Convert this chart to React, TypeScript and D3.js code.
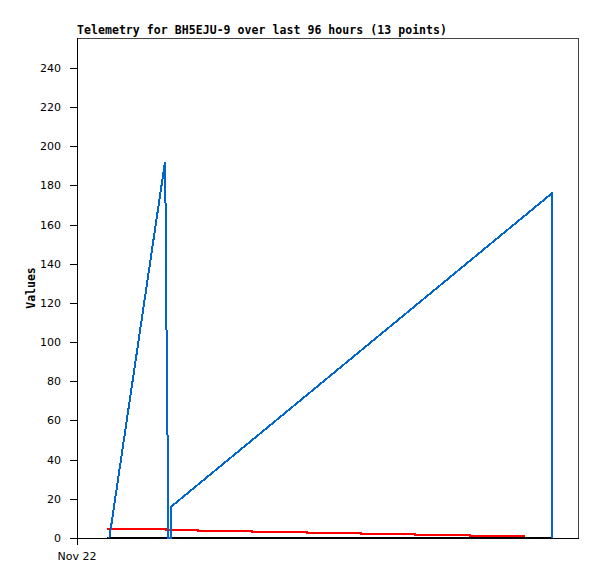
import React from "react";
import * as d3 from "d3";

const W = 597;
const H = 579;
const M = { left: 77, right: 19, top: 38, bottom: 41 };

const title = "Telemetry for BH5EJU-9 over last 96 hours (13 points)";
const yLabel = "Values";
const xTickLabel = "Nov 22";
const yTicks = [0, 20, 40, 60, 80, 100, 120, 140, 160, 180, 200, 220, 240];

// time in hours since start of window (Nov 22 00:00), value
const blueHours = [6.2, 16.86, 16.96, 17.05, 17.25, 17.5, 17.95, 18.05, 91.0, 91.0];
const blueValues = [0, 192, 171, 128, 85, 0, 0, 16, 176, 0];

const redHours = [5.75, 17.05, 23.2, 33.5, 44.1, 54.4, 64.8, 75.3, 85.8];
const redValues = [4.8, 4.1, 3.6, 3.1, 2.6, 2.1, 1.6, 1.1, 1.1];

const blackHours = [5.75, 91.0];
const blackValues = [0, 0];

export default function App() {
  const x = d3.scaleLinear().domain([0, 96]).range([M.left, W - M.right]);
  const y = d3.scaleLinear().domain([0, 255.3]).range([H - M.bottom, M.top]);

  const lineLin = d3
    .line<[number, number]>()
    .x((d) => x(d[0]))
    .y((d) => y(d[1]));
  const lineStep = d3
    .line<[number, number]>()
    .x((d) => x(d[0]))
    .y((d) => y(d[1]))
    .curve(d3.curveStepAfter);

  const blue = blueHours.map((h, i) => [h, blueValues[i]] as [number, number]);
  const red = redHours.map((h, i) => [h, redValues[i]] as [number, number]);
  const black = blackHours.map((h, i) => [h, blackValues[i]] as [number, number]);

  const x0 = M.left;
  const x1 = W - M.right;
  const y0 = H - M.bottom;
  const y1 = M.top;

  return (
    <svg
      width={W}
      height={H}
      style={{ position: "absolute", left: 0, top: 0, background: "#fff" }}
    >
      <rect x={0} y={0} width={W} height={H} fill="#fff" />
      <text
        x={x0}
        y={34}
        fontFamily="DejaVu Sans Mono"
        fontWeight="bold"
        fontSize={11.5}
        textLength={370}
        fill="#000"
      >
        {title}
      </text>
      {/* frame */}
      <rect
        x={x0 + 0.5}
        y={y1 + 0.5}
        width={x1 - x0}
        height={y0 - y1}
        fill="none"
        stroke="#444"
        strokeWidth={1}
      />
      {/* axes */}
      <line x1={x0 + 0.5} x2={x0 + 0.5} y1={y1} y2={y0 + 1} stroke="#000" />
      <line x1={x0} x2={x1 + 1} y1={y0 + 0.5} y2={y0 + 0.5} stroke="#000" />
      {yTicks.map((t) => (
        <g key={t}>
          <line
            x1={x0 - 7}
            x2={x0}
            y1={Math.round(y(t)) + 0.5}
            y2={Math.round(y(t)) + 0.5}
            stroke="#000"
          />
          <text
            x={x0 - 16}
            y={Math.round(y(t)) + 4}
            textAnchor="end"
            fontFamily="DejaVu Sans"
            fontSize={11}
            fill="#000"
          >
            {t}
          </text>
        </g>
      ))}
      {/* x tick */}
      <line x1={x(0) + 0.5} x2={x(0) + 0.5} y1={y0} y2={y0 + 7} stroke="#000" />
      <text
        x={x(0)}
        y={560}
        textAnchor="middle"
        fontFamily="DejaVu Sans"
        fontSize={11}
        fill="#000"
      >
        {xTickLabel}
      </text>
      <text
        transform={`translate(35, ${(y0 + y1) / 2}) rotate(-90)`}
        textAnchor="middle"
        fontFamily="DejaVu Sans Mono"
        fontWeight="bold"
        fontSize={11.5}
        fill="#000"
      >
        {yLabel}
      </text>
      {/* series */}
      <path d={lineLin(black) || ""} fill="none" stroke="#000" strokeWidth={2} shapeRendering="crispEdges" />
      <path d={lineStep(red) || ""} fill="none" stroke="#ff0000" strokeWidth={2} shapeRendering="crispEdges" />
      <path d={lineLin(blue) || ""} fill="none" stroke="#0066cc" strokeWidth={2} shapeRendering="crispEdges" />
    </svg>
  );
}
